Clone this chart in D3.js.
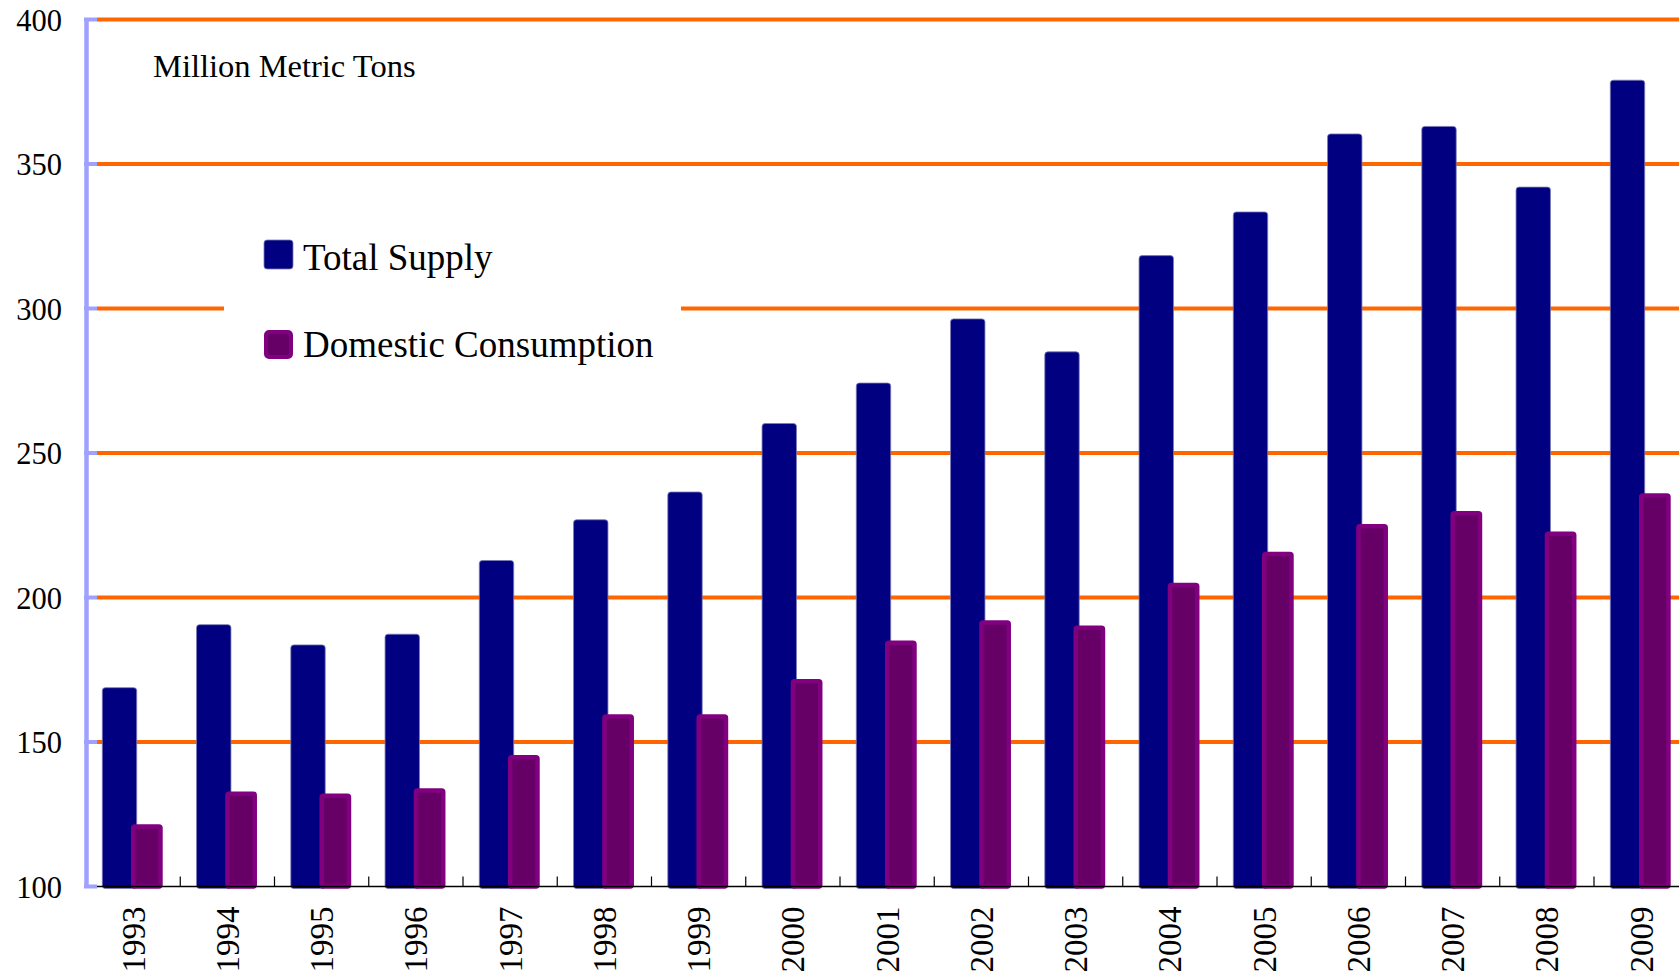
<!DOCTYPE html>
<html>
<head>
<meta charset="utf-8">
<script src="https://cdn.jsdelivr.net/npm/d3@7"></script>
<style>
  body { margin: 0; background: #fff; }
  text { font-family: "Liberation Serif", "Times New Roman", serif; fill: #000; }
</style>
</head>
<body>
<svg id="plot"></svg>
<script>
// Data
const years = ["1993", "1994", "1995", "1996", "1997", "1998", "1999", "2000", "2001",
               "2002", "2003", "2004", "2005", "2006", "2007", "2008", "2009"];
const totalSupply = [168.8, 190.6, 183.6, 187.3, 212.8, 226.9, 236.5, 260.2, 274.2,
                     296.4, 285.0, 318.3, 333.4, 360.4, 363.0, 342.0, 379.0];
const domesticConsumption = [121.5, 132.9, 132.2, 134.0, 145.5, 159.6, 159.6, 171.8, 185.1,
                             192.1, 190.3, 205.1, 215.8, 225.4, 229.9, 222.8, 236.1];
const yTicks = [100, 150, 200, 250, 300, 350, 400];
const seriesNames = ["Total Supply", "Domestic Consumption"];

let width = 1679;
let height = 975;

let svg = d3.select('#plot')
    .attr('width', width)
    .attr('height', height);

// band for each year, the last one runs past the right edge like the original
let xScale = d3.scaleBand()
    .domain(years)
    .range([86, 86 + 17 * 94.25])
    .padding(0);

let yScale = d3.scaleLinear()
    .domain([100, 400])
    .range([886.5, 19.5]);

let bw = xScale.bandwidth();

// orange gridlines
svg.append('g')
    .selectAll('line')
    .data(yTicks.filter(d => d > 100))
    .enter()
    .append('line')
    .attr('x1', 97)
    .attr('x2', width)
    .attr('y1', d => yScale(d))
    .attr('y2', d => yScale(d))
    .style('stroke', '#ff6600')
    .style('stroke-width', 4);

// white legend box breaks the 300 gridline
svg.append('rect')
    .attr('x', 224)
    .attr('y', 205)
    .attr('width', 457)
    .attr('height', 170)
    .style('fill', '#fff');

// Total supply bars
svg.selectAll('.supply')
    .data(totalSupply)
    .enter()
    .append('rect')
    .attr('class', 'supply')
    .attr('x', (d, i) => xScale(years[i]) + bw * 0.173)
    .attr('y', d => yScale(d))
    .attr('width', bw * 0.365)
    .attr('height', d => yScale(100) - yScale(d) + 2)
    .attr('rx', 3)
    .style('fill', '#000080')
    .style('stroke', '#7a7ab8')
    .style('stroke-width', 0.8);

// Domestic consumption bars (thick purple border)
let sw = 4.5;
svg.selectAll('.cons')
    .data(domesticConsumption)
    .enter()
    .append('rect')
    .attr('class', 'cons')
    .attr('x', (d, i) => xScale(years[i]) + bw * 0.477 + sw / 2)
    .attr('y', d => yScale(d) + sw / 2)
    .attr('width', bw * 0.337 - sw)
    .attr('height', d => yScale(100) - yScale(d) - sw / 2)
    .attr('rx', 1.5)
    .style('fill', '#660066')
    .style('stroke', '#800080')
    .style('stroke-width', sw);

// X axis
let xAxis = svg.append('g')
    .attr('transform', `translate(0, ${yScale(100)})`)
    .call(d3.axisBottom(xScale).tickSizeInner(0).tickSizeOuter(0));
xAxis.select('.domain')
    .attr('d', `M86,0H${width}`)
    .style('stroke', '#000')
    .style('stroke-width', 1.5);
xAxis.selectAll('text')
    .attr('transform', 'rotate(-90)')
    .attr('x', -20)
    .attr('y', 0)
    .attr('dy', '0.35em')
    .attr('text-anchor', 'end')
    .style('font-size', '33px')
    .style('font-family', '"Liberation Serif", "Times New Roman", serif');

// tick marks on the category boundaries, pointing up
svg.append('g')
    .selectAll('line')
    .data(years)
    .enter()
    .append('line')
    .attr('x1', d => xScale(d))
    .attr('x2', d => xScale(d))
    .attr('y1', yScale(100))
    .attr('y2', yScale(100) - 10)
    .style('stroke', '#000')
    .style('stroke-width', 1.2);

// Y axis
let yAxis = svg.append('g')
    .attr('transform', 'translate(86, 0)')
    .call(d3.axisLeft(yScale).tickValues(yTicks).tickSize(0).tickPadding(24));
yAxis.select('.domain')
    .style('stroke', '#a0a0ff')
    .style('stroke-width', 4.5);
yAxis.selectAll('text')
    .attr('dy', '0.35em')
    .style('font-size', '30.5px')
    .style('font-family', '"Liberation Serif", "Times New Roman", serif');

// short lavender ticks to the right of the axis
svg.append('g')
    .selectAll('line')
    .data(yTicks)
    .enter()
    .append('line')
    .attr('x1', 84)
    .attr('x2', 97)
    .attr('y1', d => yScale(d))
    .attr('y2', d => yScale(d))
    .style('stroke', '#a0a0ff')
    .style('stroke-width', 4);

// unit label
svg.append('text')
    .attr('x', 153)
    .attr('y', 77)
    .style('font-size', '32.5px')
    .text('Million Metric Tons');

// Legend
let legend = svg.selectAll('.legend')
    .data(seriesNames)
    .enter()
    .append('g')
    .attr('class', 'legend')
    .attr('transform', (d, i) => `translate(264, ${240 + i * 90})`);

legend.append('rect')
    .attr('x', (d, i) => i === 0 ? 0 : 2)
    .attr('y', (d, i) => i === 0 ? 0 : 2)
    .attr('width', (d, i) => i === 0 ? 29 : 25)
    .attr('height', (d, i) => i === 0 ? 29 : 25)
    .attr('rx', 3)
    .style('fill', (d, i) => i === 0 ? '#000080' : '#660066')
    .style('stroke', (d, i) => i === 0 ? '#7a7ab8' : '#800080')
    .style('stroke-width', (d, i) => i === 0 ? 0.8 : 4);

legend.append('text')
    .attr('x', 39)
    .attr('y', (d, i) => i === 0 ? 30 : 27)
    .style('font-size', '37px')
    .text(d => d);
</script>
</body>
</html>
